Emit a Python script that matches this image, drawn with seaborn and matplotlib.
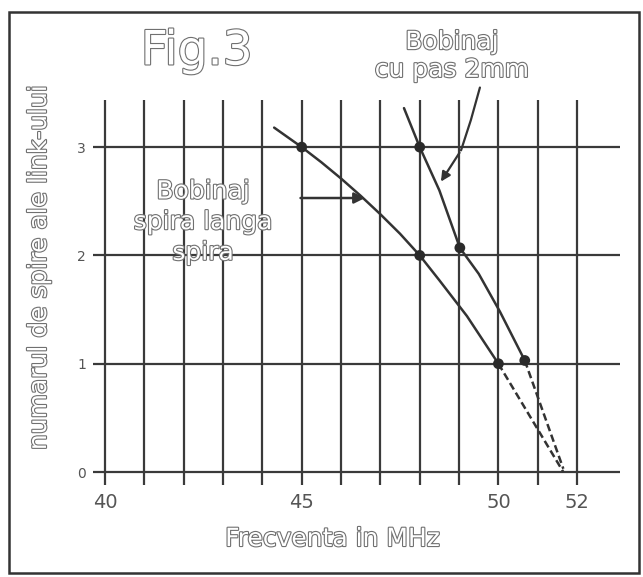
import numpy as np
import pandas as pd
import matplotlib
matplotlib.use('Agg')
import matplotlib.pyplot as plt
import matplotlib.patheffects as pe
from matplotlib.patches import Rectangle
import seaborn as sns

# curba "spira langa spira"
freq_spira = [44.3, 45.0, 45.5, 46.0, 46.5, 47.0, 47.5, 48.0, 48.5, 49.2, 50.0]
spire_spira = [3.18, 3.0, 2.86, 2.71, 2.55, 2.38, 2.20, 2.0, 1.77, 1.44, 1.0]
freq_spira_dash = [50.0, 51.65]
spire_spira_dash = [1.0, 0.0]
pts_spira_f = [45.0, 48.0, 50.0]
pts_spira_n = [3.0, 2.0, 1.0]

# curba "cu pas 2mm"
freq_pas = [47.6, 48.0, 48.5, 49.02, 49.5, 50.04, 50.67]
spire_pas = [3.36, 3.0, 2.60, 2.07, 1.83, 1.48, 1.03]
freq_pas_dash = [50.67, 51.65]
spire_pas_dash = [1.03, 0.03]
pts_pas_f = [48.0, 49.02, 50.67]
pts_pas_n = [3.0, 2.07, 1.03]

x_ticks = list(range(40, 53))
x_labels = {40: '40', 45: '45', 50: '50', 52: '52'}
y_ticks = [0, 1, 2, 3]

sns.set_style('white')
plt.rcParams['font.family'] = ['DejaVu Sans']

ink = '#333333'
txt_fx = [pe.withStroke(linewidth=1.6, foreground='#707070')]

fig = plt.figure(figsize=(6.43, 5.77), dpi=100)
ax = fig.add_axes([0.1446, 0.1594, 0.8196, 0.6673])

for s in ax.spines.values():
    s.set_visible(False)

ax.set_xlim(39.695, 53.09)
ax.set_ylim(-0.12, 3.435)
ax.set_xticks(x_ticks)
ax.set_xticklabels([x_labels.get(t, '') for t in x_ticks])
ax.set_yticks(y_ticks)
ax.tick_params(axis='x', length=0, pad=6, labelsize=14, labelcolor='#555555')
ax.tick_params(axis='y', length=0, pad=5, labelsize=10, labelcolor='#555555')
ax.grid(True, color='#3a3a3a', linewidth=1.6)
ax.set_axisbelow(True)

df_a = pd.DataFrame({'f': freq_spira, 'n': spire_spira})
df_b = pd.DataFrame({'f': freq_pas, 'n': spire_pas})
sns.lineplot(data=df_a, x='f', y='n', sort=False, estimator=None, ax=ax,
             color=ink, linewidth=1.8)
sns.lineplot(data=df_b, x='f', y='n', sort=False, estimator=None, ax=ax,
             color=ink, linewidth=1.8)
sns.lineplot(x=freq_spira_dash, y=spire_spira_dash, sort=False, estimator=None, ax=ax,
             color=ink, linewidth=1.8, dashes=False, linestyle=(0, (3, 1.5)))
sns.lineplot(x=freq_pas_dash, y=spire_pas_dash, sort=False, estimator=None, ax=ax,
             color=ink, linewidth=1.8, dashes=False, linestyle=(0, (3, 1.5)))
sns.scatterplot(x=pts_spira_f + pts_pas_f, y=pts_spira_n + pts_pas_n, ax=ax,
                color='#2a2a2a', s=60, edgecolor='none', zorder=5)

ax.set_xlabel('Frecventa in MHz', fontsize=18, color='white', path_effects=txt_fx)
ax.xaxis.set_label_coords(0.455, -0.109)
ax.set_ylabel('numarul de spire ale link-ului', fontsize=18, color='white', path_effects=txt_fx)
ax.yaxis.set_label_coords(-0.0797, 0.566)

# sageti
ax.annotate('', xy=(46.68, 2.53), xytext=(44.9, 2.53),
            arrowprops=dict(arrowstyle='-|>', color=ink, lw=1.8, mutation_scale=16))
ax.plot([49.53, 49.3, 49.05], [3.55, 3.25, 2.97], color=ink, lw=1.6, clip_on=False)
ax.annotate('', xy=(48.5, 2.66), xytext=(49.05, 2.97),
            arrowprops=dict(arrowstyle='-|>', color=ink, lw=1.6, mutation_scale=14))

fig.text(0.306, 0.910, 'Fig.3', fontsize=34, ha='center', va='center',
         color='white', path_effects=txt_fx)
fig.text(0.703, 0.903, 'Bobinaj\ncu pas 2mm', fontsize=18, ha='center', va='center',
         linespacing=1.2, color='white', path_effects=txt_fx)
fig.text(0.316, 0.615, 'Bobinaj\nspira langa\nspira', fontsize=18, ha='center', va='center',
         linespacing=1.35, color='white', path_effects=txt_fx)

fig.add_artist(Rectangle((0.014, 0.007), 0.98, 0.972, transform=fig.transFigure,
                         fill=False, linewidth=1.8, edgecolor=ink))

fig.savefig('out.png', dpi=100)
